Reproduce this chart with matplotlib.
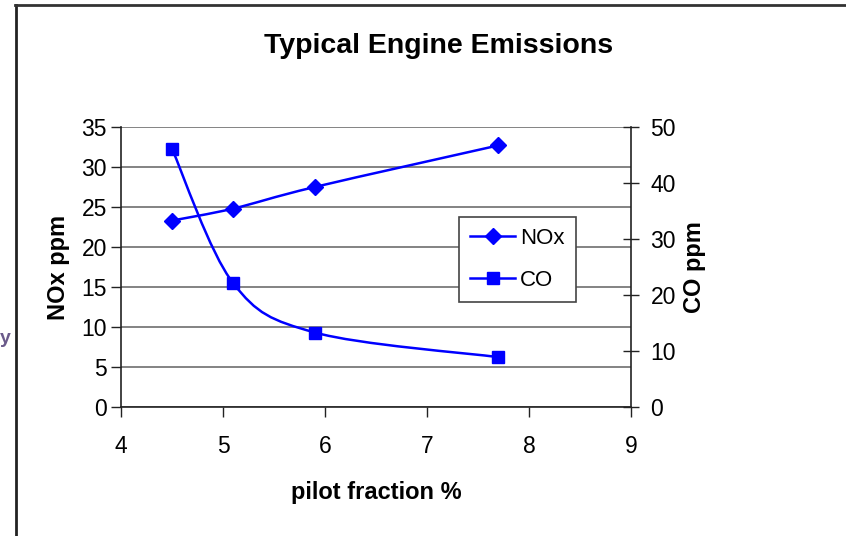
import numpy as np
import matplotlib
matplotlib.use("Agg")
import matplotlib.pyplot as plt
from matplotlib.path import Path
from matplotlib.patches import PathPatch
from matplotlib.lines import Line2D

plt.rcParams['font.family'] = ['Liberation Sans', 'DejaVu Sans']

pilot = [4.5, 5.1, 5.9, 7.7]
nox = [23.3, 24.8, 27.5, 32.7]
co = [46.1, 22.1, 13.3, 8.9]

x_ticks = [4, 5, 6, 7, 8, 9]
nox_ticks = [0, 5, 10, 15, 20, 25, 30, 35]
co_ticks = [0, 10, 20, 30, 40, 50]

BLUE = '#0000ff'


def smooth_path(xs, ys):
    # Catmull-Rom style bezier through the points (spreadsheet "smoothed line")
    pts = np.column_stack([xs, ys]).astype(float)
    n = len(pts)
    verts = [pts[0]]
    codes = [Path.MOVETO]
    for i in range(n - 1):
        p0 = pts[max(i - 1, 0)]
        p1 = pts[i]
        p2 = pts[i + 1]
        p3 = pts[min(i + 2, n - 1)]
        c1 = p1 + (p2 - p0) / 6.0
        c2 = p2 - (p3 - p1) / 6.0
        verts += [c1, c2, p2]
        codes += [Path.CURVE4] * 3
    return Path(verts, codes)


fig = plt.figure(figsize=(8.46, 5.36), dpi=100)
ax = fig.add_axes([0.143, 0.2407, 0.603, 0.5224])
ax2 = ax.twinx()

ax.set_xlim(4, 9)
ax.set_ylim(0, 35)
ax2.set_ylim(0, 50)
ax.set_xticks(x_ticks)
ax.set_yticks(nox_ticks)
ax2.set_yticks(co_ticks)

ax.grid(axis='y', color='#6e6e6e', lw=1.2)
ax.set_axisbelow(True)

for a in (ax, ax2):
    a.spines['top'].set_visible(False)
    for s in ('left', 'right', 'bottom'):
        a.spines[s].set_color('#222222')
        a.spines[s].set_linewidth(1.2)
ax.spines['right'].set_visible(False)
ax2.spines['left'].set_visible(False)
ax2.spines['bottom'].set_visible(False)

ax.tick_params(axis='y', direction='out', length=7, width=1, color='#222222',
               labelsize=16.5, pad=3)
ax.tick_params(axis='x', direction='out', length=7, width=1, color='#222222',
               labelsize=16.5, pad=13)
ax2.tick_params(axis='y', direction='inout', length=12, width=1, color='#222222',
                labelsize=16.5, pad=8)

ax.add_patch(PathPatch(smooth_path(pilot, nox), fill=False, edgecolor=BLUE, lw=1.8))
ax2.add_patch(PathPatch(smooth_path(pilot, co), fill=False, edgecolor=BLUE, lw=1.8))
ax.plot(pilot, nox, ls='none', marker='D', ms=8, color=BLUE)
ax2.plot(pilot, co, ls='none', marker='s', ms=9, color=BLUE)

handles = [Line2D([], [], color=BLUE, lw=1.8, marker='D', ms=8),
           Line2D([], [], color=BLUE, lw=1.8, marker='s', ms=9)]
leg = ax2.legend(handles, ['NOx', 'CO'], loc='upper left',
                 bbox_to_anchor=(0.663, 0.679), borderaxespad=0, fontsize=16,
                 frameon=True, fancybox=False, edgecolor='#444444', framealpha=1,
                 handlelength=2.0, borderpad=0.5, labelspacing=0.95,
                 handletextpad=0.25)
leg.get_frame().set_linewidth(1.2)

ax.set_xlabel('pilot fraction %', fontsize=17, fontweight='bold', labelpad=17)
ax.set_ylabel('NOx ppm', fontsize=17, fontweight='bold', labelpad=8)
ax2.set_ylabel('CO ppm', fontsize=17, fontweight='bold', labelpad=5)
fig.text(0.518, 0.915, 'Typical Engine Emissions', ha='center', va='center',
         fontsize=20.5, fontweight='bold')

# outer border lines on the left and top
fig.add_artist(Line2D([0.019, 0.019], [0.0, 0.99], transform=fig.transFigure,
                      color='#222222', lw=2))
fig.add_artist(Line2D([0.018, 1.0], [0.99, 0.99], transform=fig.transFigure,
                      color='#333333', lw=2))
fig.text(0.0, 0.369, 'y', color='#6a5a8a', fontsize=14, fontweight='bold',
         va='center')

fig.savefig('out.png', dpi=100)
